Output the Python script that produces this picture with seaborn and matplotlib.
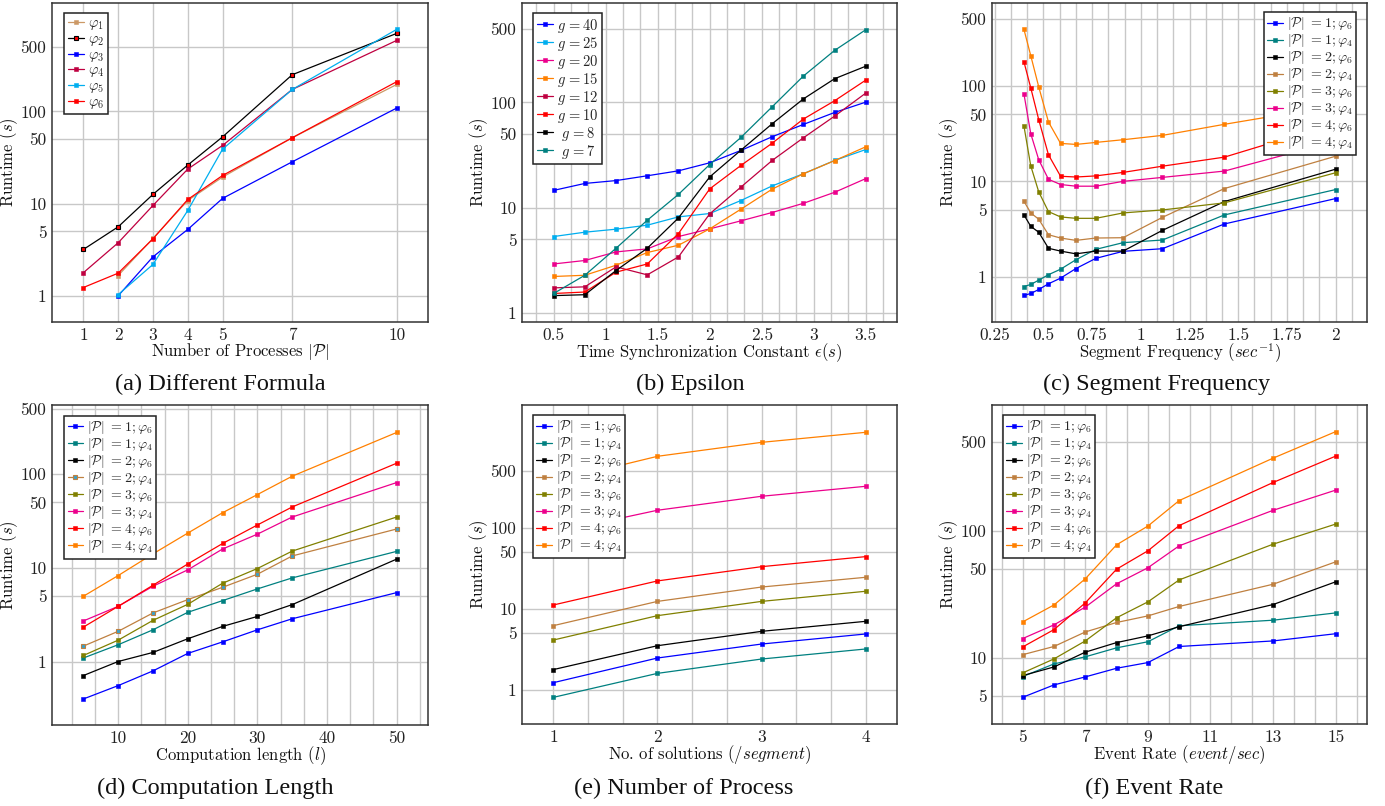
import numpy as np
import pandas as pd
import matplotlib
matplotlib.use("Agg")
import matplotlib.pyplot as plt
import seaborn as sns
from matplotlib.ticker import AutoMinorLocator, NullLocator, FixedLocator, NullFormatter

# ---------------- data ----------------
# (a) Different Formula
A_X = [1, 2, 3, 4, 5, 7, 10]
A_X2 = [2, 3, 4, 5, 7, 10]
A_PHI1 = [1.66, 4.2, 10.8, 19.4, 51.8, 196]
A_PHI2 = [3.18, 5.6, 12.6, 26.2, 53, 250, 702]
A_PHI3 = [1.0, 2.65, 5.25, 11.4, 28.4, 108.7]
A_PHI4 = [1.78, 3.76, 9.55, 23.7, 42.8, 173, 589]
A_PHI5 = [1.03, 2.19, 8.43, 39, 173, 776]
A_PHI6 = [1.23, 1.76, 4.15, 11.1, 20.2, 51.8, 210]

# (b) Epsilon
B_X = [0.5, 0.8, 1.1, 1.4, 1.7, 2.0, 2.3, 2.6, 2.9, 3.2, 3.5]
B_G40 = [14.6, 17.0, 18.1, 20.1, 22.4, 26.7, 35, 47.2, 61.8, 80.3, 100.7]
B_G25 = [5.32, 5.85, 6.25, 6.82, 8.18, 8.8, 11.7, 16.1, 21, 28.1, 35.7]
B_G20 = [2.92, 3.15, 3.8, 4.06, 5.32, 6.29, 7.5, 9.0, 11.0, 14.0, 18.9]
B_G15 = [2.22, 2.28, 2.84, 3.75, 4.4, 6.29, 9.68, 15.0, 21, 28, 37.9]
B_G12 = [1.73, 1.77, 2.74, 2.3, 3.41, 8.74, 15.7, 28.1, 46.1, 74.1, 122.7]
B_G10 = [1.53, 1.58, 2.44, 2.92, 5.68, 15.1, 25.2, 41, 69.5, 103.7, 163]
B_G8 = [1.46, 1.49, 2.53, 4.12, 8.0, 19.6, 35.2, 62.7, 108, 168, 221]
B_G7 = [1.53, 2.28, 4.12, 7.6, 13.4, 25.7, 46.5, 90.9, 178, 312, 491]

# (c) Segment Frequency
C_X = [0.4, 0.435, 0.476, 0.526, 0.588, 0.667, 0.769, 0.909, 1.111, 1.429, 2.0]
C_P1_PHI6 = [0.643, 0.675, 0.743, 0.852, 0.976, 1.23, 1.57, 1.86, 1.98, 3.59, 6.61]
C_P1_PHI4 = [0.798, 0.838, 0.93, 1.06, 1.21, 1.52, 1.95, 2.29, 2.44, 4.46, 8.21]
C_P2_PHI6 = [4.46, 3.39, 2.94, 2.0, 1.87, 1.75, 1.87, 1.87, 3.08, 6.15, 13.4]
C_P2_PHI4 = [6.2, 4.68, 4.02, 2.77, 2.56, 2.42, 2.56, 2.58, 4.21, 8.41, 18.3]
C_P3_PHI6 = [37.8, 14.5, 7.76, 4.83, 4.25, 4.11, 4.11, 4.68, 5.03, 5.96, 12.3]
C_P3_PHI4 = [81.8, 31.4, 16.8, 10.5, 9.27, 8.9, 8.9, 10.0, 11.0, 12.8, 26.3]
C_P4_PHI6 = [177, 94.6, 44, 18.9, 11.3, 11.1, 11.4, 12.4, 14.4, 17.9, 40.3]
C_P4_PHI4 = [386, 205, 96.8, 41.6, 24.9, 24.3, 25.5, 27.2, 30.2, 39.4, 61.7]

# (d) Computation Length
D_X = [5, 10, 15, 20, 25, 30, 35, 50]
D_P1_PHI6 = [0.398, 0.553, 0.794, 1.22, 1.62, 2.18, 2.86, 5.44]
D_P1_PHI4 = [1.09, 1.51, 2.18, 3.35, 4.47, 5.96, 7.81, 15.0]
D_P2_PHI6 = [0.708, 1.0, 1.25, 1.75, 2.37, 3.03, 4.05, 12.4]
D_P2_PHI4 = [1.46, 2.1, 3.3, 4.58, 6.2, 8.55, 13.4, 26.0]
D_P3_PHI6 = [1.16, 1.69, 2.75, 4.08, 6.85, 9.84, 15.1, 34.9]
D_P3_PHI4 = [2.71, 3.88, 6.36, 9.52, 15.9, 22.9, 34.9, 81.4]
D_P4_PHI6 = [2.33, 3.88, 6.52, 11.0, 18.2, 28.7, 44.7, 131]
D_P4_PHI4 = [4.97, 8.27, 14.1, 23.5, 38.8, 60.6, 95.2, 279]

# (e) Number of Process
E_X = [1, 2, 3, 4]
E_P1_PHI6 = [1.22, 2.46, 3.66, 4.87]
E_P1_PHI4 = [0.804, 1.59, 2.39, 3.18]
E_P2_PHI6 = [1.77, 3.49, 5.25, 6.98]
E_P2_PHI4 = [6.17, 12.3, 18.5, 24.4]
E_P3_PHI6 = [4.1, 8.2, 12.3, 16.4]
E_P3_PHI4 = [87, 164, 244, 324]
E_P4_PHI6 = [11.1, 22.0, 33.0, 43.9]
E_P4_PHI4 = [370, 760, 1130, 1503]

# (f) Event Rate
F_X = [5, 6, 7, 8, 9, 10, 13, 15]
F_P1_PHI6 = [4.9, 6.13, 7.09, 8.29, 9.19, 12.3, 13.6, 15.5]
F_P1_PHI4 = [7.13, 8.97, 10.2, 12.0, 13.4, 17.9, 19.8, 22.6]
F_P2_PHI6 = [7.26, 8.49, 11.1, 13.2, 14.9, 17.6, 26.3, 39.7]
F_P2_PHI4 = [10.6, 12.3, 16.0, 19.0, 21.4, 25.4, 38.0, 57.0]
F_P3_PHI6 = [7.62, 9.82, 13.6, 20.7, 27.6, 41.1, 78.5, 113]
F_P3_PHI4 = [14.2, 18.2, 25.1, 38.3, 51.2, 76.2, 145, 209]
F_P4_PHI6 = [12.2, 16.7, 27.1, 49.9, 69.6, 110, 240, 387]
F_P4_PHI4 = [19.2, 26.1, 41.9, 77.6, 109, 173, 373, 603]

P_LABELS = [r'$|\mathcal{P}|\ = 1;\varphi_6$', r'$|\mathcal{P}|\ = 1;\varphi_4$',
            r'$|\mathcal{P}|\ = 2;\varphi_6$', r'$|\mathcal{P}|\ = 2;\varphi_4$',
            r'$|\mathcal{P}|\ = 3;\varphi_6$', r'$|\mathcal{P}|\ = 3;\varphi_4$',
            r'$|\mathcal{P}|\ = 4;\varphi_6$', r'$|\mathcal{P}|\ = 4;\varphi_4$']
P_COLORS = ['#0000ff', '#008080', '#000000', '#bf8040', '#808000', '#ec008c', '#ff0000', '#ff8000']
G_LABELS = [r'$g\,=40$', r'$g\,=25$', r'$g\,=20$', r'$g\,=15$', r'$g\,=12$', r'$g\,=10$', r'$\ g\,=8$', r'$\ g\,=7$']
G_COLORS = ['#0000ff', '#00aeef', '#ec008c', '#ff8000', '#bf0040', '#ff0000', '#000000', '#008080']
PHI_LABELS = [r'$\varphi_1$', r'$\varphi_2$', r'$\varphi_3$', r'$\varphi_4$', r'$\varphi_5$', r'$\varphi_6$']
PHI_COLORS = ['#cc9966', '#000000', '#0000ff', '#bf0040', '#00aeef', '#ff0000']
YTICKS = [1, 5, 10, 50, 100, 500]

# ---------------- style ----------------
sns.set_theme(style="white")
plt.rcParams['font.family'] = ['cmr10', 'DejaVu Serif']
plt.rcParams['mathtext.fontset'] = 'cm'
plt.rcParams['axes.formatter.use_mathtext'] = True
plt.rcParams['axes.unicode_minus'] = False

W, H = 1385, 806
fig = plt.figure(figsize=(W / 100, H / 100), dpi=100)


def rect(l, r, t, b):
    return [l / W, (H - b) / H, (r - l) / W, (b - t) / H]


def draw(ax, x, series, labels, colors, extra=None):
    for i, (ys, lab, col) in enumerate(zip(series, labels, colors)):
        xs = x[i] if isinstance(x[0], list) else x
        kw = dict(marker='s', markersize=3.3, markeredgewidth=0.4,
                  markerfacecolor=col, markeredgecolor=col)
        if extra and i in extra:
            kw.update(extra[i])
        df = pd.DataFrame({'x': xs, 'y': ys})
        sns.lineplot(data=df, x='x', y='y', ax=ax, color=col, linewidth=0.9,
                     label=lab, sort=False, estimator=None, **kw)


def style(ax, xlim, ylim, xticks, xticklabels, xlabel, minor=True, yticks=YTICKS):
    ax.set_yscale('log')
    ax.set_xlim(*xlim)
    ax.set_ylim(*ylim)
    ax.set_xticks(xticks)
    ax.set_xticklabels(xticklabels)
    yt = [t for t in yticks if ylim[0] <= t <= ylim[1]]
    ax.yaxis.set_major_locator(FixedLocator(yt))
    ax.set_yticklabels([str(t) for t in yt])
    ax.yaxis.set_minor_locator(NullLocator())
    ax.yaxis.set_minor_formatter(NullFormatter())
    if minor:
        ax.xaxis.set_minor_locator(AutoMinorLocator(3))
    else:
        ax.xaxis.set_minor_locator(NullLocator())
    ax.grid(True, which='major', axis='both', color='#c8c8c8', linewidth=1.0)
    ax.grid(True, which='minor', axis='x', color='#c8c8c8', linewidth=1.0)
    ax.set_axisbelow(True)
    ax.tick_params(axis='both', which='both', length=0, labelsize=12.5, pad=4,
                   labelcolor='#222222')
    for s in ax.spines.values():
        s.set_color('#333333')
        s.set_linewidth(1.1)
    ax.set_xlabel(xlabel, fontsize=12, color='#111111')
    ax.set_ylabel(r'Runtime $(s)$', fontsize=12, color='#111111')
    ax.xaxis.set_label_coords(0.5, -0.06)
    ax.yaxis.set_label_coords(-0.085, 0.5)


def legend(ax, loc, anchor, fs=10, ls=0.0, hl=1.1):
    leg = ax.legend(loc=loc, bbox_to_anchor=anchor, borderaxespad=0, fontsize=fs,
                    labelspacing=ls, handlelength=hl, handletextpad=0.3,
                    borderpad=0.25, fancybox=False, framealpha=1, edgecolor='#222222',
                    facecolor='white')
    leg.get_frame().set_linewidth(1.1)
    return leg


# (a)
ax = fig.add_axes(rect(52, 428, 3, 322))
draw(ax, [A_X2, A_X, A_X2, A_X, A_X2, A_X],
     [A_PHI1, A_PHI2, A_PHI3, A_PHI4, A_PHI5, A_PHI6], PHI_LABELS, PHI_COLORS,
     extra={1: dict(markerfacecolor='#ff0000', markeredgecolor='#000000', markeredgewidth=0.8)})
style(ax, (0.1, 10.9), (0.52, 1500), A_X, [str(v) for v in A_X],
      r'Number of Processes $|\mathcal{P}|$', minor=False)
legend(ax, 'upper left', (0.032, 0.969), fs=10.5, ls=0.0, hl=1.1)

# (b)
ax = fig.add_axes(rect(522, 897, 3, 322))
draw(ax, B_X, [B_G40, B_G25, B_G20, B_G15, B_G12, B_G10, B_G8, B_G7], G_LABELS, G_COLORS)
style(ax, (0.196, 3.80), (0.82, 881), [0.5, 1, 1.5, 2, 2.5, 3, 3.5],
      ['0.5', '1', '1.5', '2', '2.5', '3', '3.5'],
      r'Time Synchronization Constant $\epsilon(s)$')
legend(ax, 'upper left', (0.029, 0.969), fs=10.5, ls=0.0)

# (c)
ax = fig.add_axes(rect(992, 1367, 3, 322))
draw(ax, C_X, [C_P1_PHI6, C_P1_PHI4, C_P2_PHI6, C_P2_PHI4, C_P3_PHI6, C_P3_PHI4,
               C_P4_PHI6, C_P4_PHI4], P_LABELS, P_COLORS)
style(ax, (0.236, 2.161), (0.34, 728), [0.25, 0.5, 0.75, 1, 1.25, 1.5, 1.75, 2],
      ['0.25', '0.5', '0.75', '1', '1.25', '1.5', '1.75', '2'],
      r'Segment Frequency $(sec^{-1})$')
legend(ax, 'upper right', (0.971, 0.972))

# (d)
ax = fig.add_axes(rect(52, 428, 405, 725))
draw(ax, D_X, [D_P1_PHI6, D_P1_PHI4, D_P2_PHI6, D_P2_PHI4, D_P3_PHI6, D_P3_PHI4,
               D_P4_PHI6, D_P4_PHI4], P_LABELS, P_COLORS,
     extra={3: dict(markerfacecolor='#3aa0c8', markeredgecolor='#bf8040', markeredgewidth=0.8)})
style(ax, (0.5, 54.5), (0.21, 548), [10, 20, 30, 40, 50], ['10', '20', '30', '40', '50'],
      r'Computation length $(l)$')
legend(ax, 'upper left', (0.032, 0.966))

# (e)
ax = fig.add_axes(rect(522, 897, 405, 724))
draw(ax, E_X, [E_P1_PHI6, E_P1_PHI4, E_P2_PHI6, E_P2_PHI4, E_P3_PHI6, E_P3_PHI4,
               E_P4_PHI6, E_P4_PHI4], P_LABELS, P_COLORS)
style(ax, (0.699, 4.30), (0.377, 3266), [1, 2, 3, 4], ['1', '2', '3', '4'],
      r'No. of solutions $(/segment)$')
legend(ax, 'upper left', (0.029, 0.969))

# (f)
ax = fig.add_axes(rect(992, 1367, 405, 724))
draw(ax, F_X, [F_P1_PHI6, F_P1_PHI4, F_P2_PHI6, F_P2_PHI4, F_P3_PHI6, F_P3_PHI4,
               F_P4_PHI6, F_P4_PHI4], P_LABELS, P_COLORS)
style(ax, (4.02, 16.0), (3.02, 977), [5, 7, 9, 11, 13, 15], ['5', '7', '9', '11', '13', '15'],
      r'Event Rate $(event/sec)$')
legend(ax, 'upper left', (0.029, 0.969))

# captions
CAPTIONS = [("(a) Different Formula", 220, 384), ("(b) Epsilon", 690, 384),
            ("(c) Segment Frequency", 1157, 384), ("(d) Computation Length", 215, 788),
            ("(e) Number of Process", 684, 788), ("(f) Event Rate", 1154, 788)]
for txt, cx, cy in CAPTIONS:
    fig.text(cx / W, 1 - cy / H, txt, ha='center', va='center', fontsize=17.5,
             family=['Liberation Serif', 'DejaVu Serif'], color='#111111')

fig.savefig('out.png', dpi=100)
